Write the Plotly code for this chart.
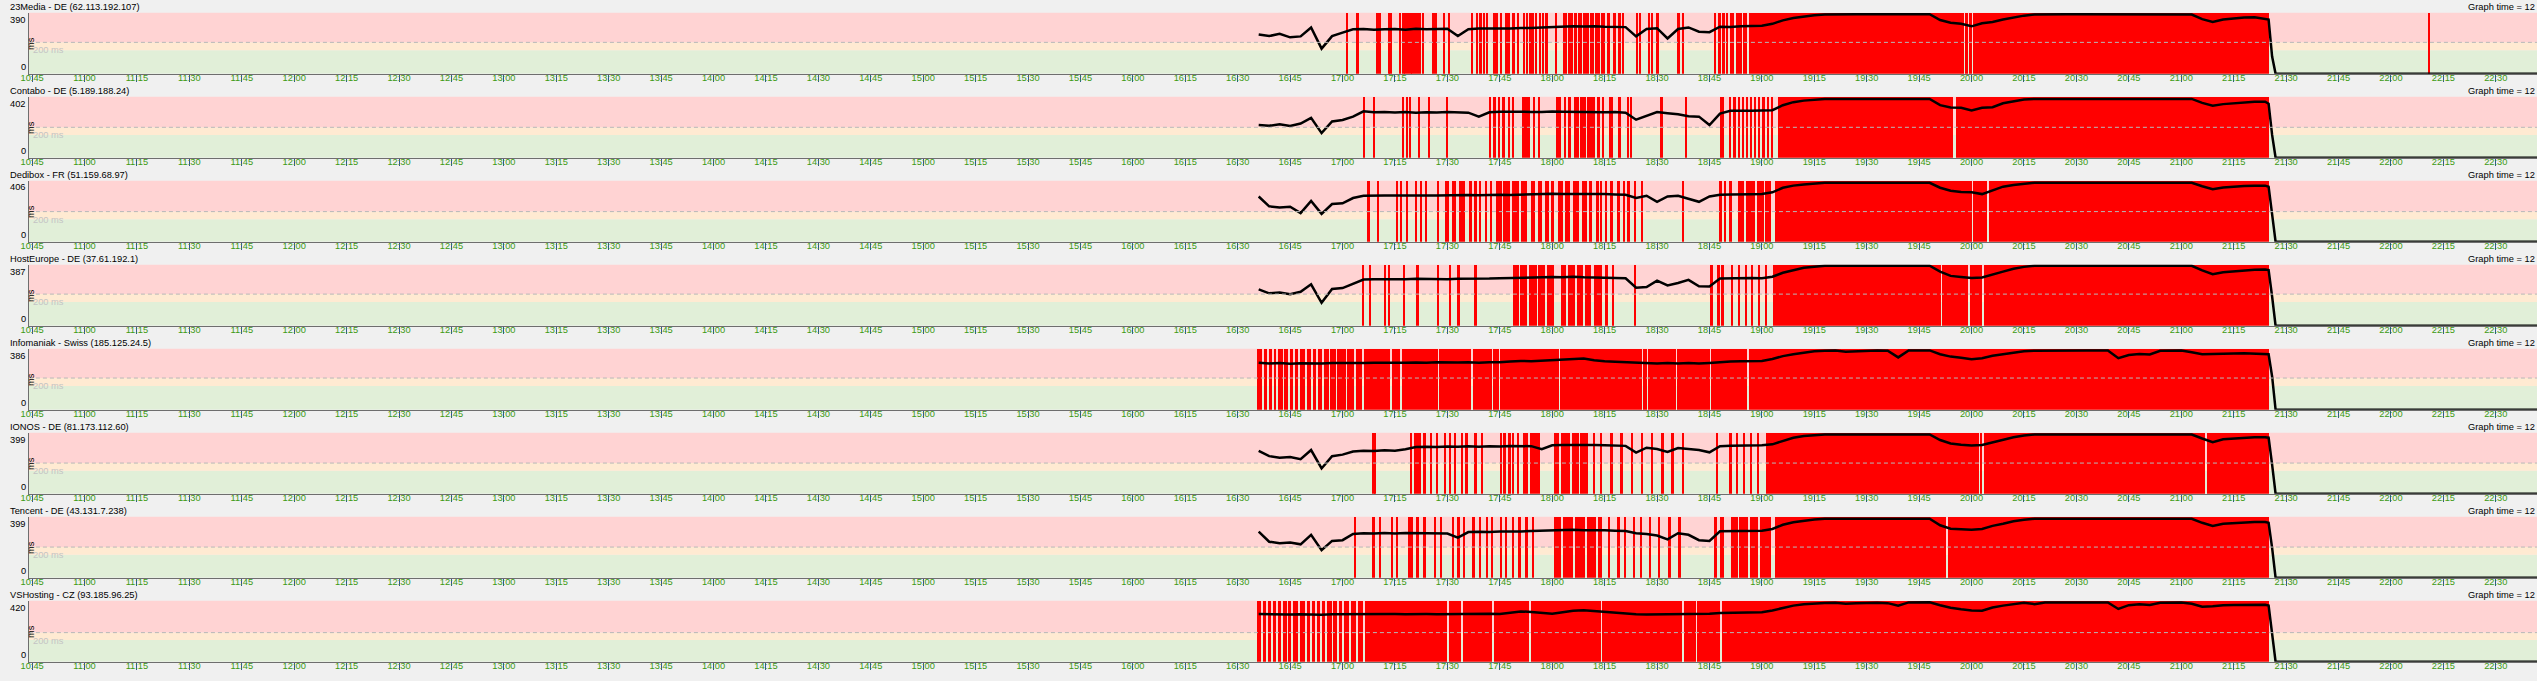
import pandas as pd
import plotly.graph_objects as go

DAY = "2024-01-01 "

# Ping monitor: one row per target server
servers = ["23Media - DE (62.113.192.107)", "Contabo - DE (5.189.188.24)",
           "Dedibox - FR (51.159.68.97)", "HostEurope - DE (37.61.192.1)",
           "Infomaniak - Swiss (185.125.24.5)", "IONOS - DE (81.173.112.60)",
           "Tencent - DE (43.131.7.238)", "VSHosting - CZ (93.185.96.25)"]
max_ms = [390, 402, 406, 387, 386, 399, 399, 420]
warn_ms = 150
alarm_ms = 200
graph_hours = 12

# latency samples every 3 minutes, 16:36 .. 21:24
lat_times = pd.date_range(DAY + "16:36", DAY + "21:24", freq="3min")
tail_times = ["21:25", "21:26", "21:27", "22:42"]

lat_23media = [250, 240, 255, 232, 238, 295, 160, 240, 262, 283,
               285, 280, 283, 285, 281, 286, 283, 285, 287, 240,
               284, 288, 287, 290, 289, 292, 291, 295, 298, 300,
               302, 301, 303, 300, 298, 297, 238, 285, 290, 225,
               285, 295, 268, 265, 300, 298, 302, 305, 306, 318,
               340, 355, 365, 372, 377, 379, 379, 379, 379, 379,
               379, 379, 379, 379, 379, 342, 325, 318, 302, 322,
               330, 345, 360, 370, 377, 379, 379, 379, 379, 379,
               379, 379, 379, 379, 379, 379, 379, 379, 379, 377,
               348, 330, 345, 352, 358, 360, 352]
tail_23media = [345, 110, 0, 0]

lat_contabo = [215, 210, 220, 208, 225, 262, 162, 238, 248, 270,
               305, 298, 300, 297, 300, 296, 299, 297, 300, 298,
               296, 270, 298, 302, 300, 303, 301, 300, 304, 302,
               300, 303, 301, 298, 300, 296, 250, 275, 300, 292,
               285, 272, 270, 215, 290, 308, 306, 308, 310, 312,
               345, 365, 375, 382, 386, 386, 386, 386, 386, 386,
               386, 386, 386, 386, 386, 345, 330, 328, 310, 328,
               332, 358, 370, 382, 386, 386, 386, 386, 386, 386,
               386, 386, 386, 386, 386, 386, 386, 386, 386, 386,
               360, 342, 352, 358, 365, 368, 368]
tail_contabo = [355, 150, 0, 0]

lat_dedibox = [300, 235, 228, 232, 190, 270, 185, 250, 255, 290,
               305, 308, 306, 307, 305, 308, 306, 307, 309, 307,
               310, 308, 311, 312, 310, 313, 315, 316, 318, 316,
               317, 318, 315, 316, 314, 312, 290, 305, 265, 300,
               305, 285, 265, 300, 312, 314, 313, 315, 316, 328,
               358, 372, 380, 387, 391, 391, 391, 391, 391, 391,
               391, 391, 391, 391, 391, 358, 338, 330, 328, 316,
               340, 365, 376, 385, 391, 391, 391, 391, 391, 391,
               391, 391, 391, 391, 391, 391, 391, 391, 391, 391,
               368, 348, 360, 366, 370, 372, 372]
tail_dedibox = [365, 180, 0, 0]

lat_hosteurope = [230, 205, 210, 200, 215, 262, 145, 232, 238, 265,
                  292, 294, 293, 296, 294, 297, 295, 296, 294, 297,
                  296, 299, 298, 300, 302, 301, 304, 306, 308, 307,
                  309, 306, 305, 303, 304, 300, 240, 245, 285, 255,
                  270, 290, 250, 248, 298, 300, 299, 301, 300, 310,
                  335, 352, 366, 373, 379, 379, 379, 379, 379, 379,
                  379, 379, 379, 379, 379, 342, 315, 308, 302, 305,
                  325, 342, 360, 372, 379, 379, 379, 379, 379, 379,
                  379, 379, 379, 379, 379, 379, 379, 379, 379, 379,
                  350, 326, 338, 344, 350, 354, 356]
tail_hosteurope = [352, 185, 0, 0]

lat_infomaniak = [296, 292, 294, 290, 293, 292, 291, 295, 294, 296,
                  295, 297, 296, 298, 297, 298, 296, 299, 297, 298,
                  299, 297, 300, 299, 304, 308, 306, 309, 312, 315,
                  318, 323, 312, 305, 303, 300, 298, 293, 291, 295,
                  292, 294, 291, 295, 300, 304, 305, 306, 308, 320,
                  338, 350, 360, 368, 372, 374, 365, 368, 374, 374,
                  372, 330, 374, 374, 374, 350, 335, 328, 318, 325,
                  340, 350, 360, 368, 372, 373, 373, 373, 373, 373,
                  373, 373, 325, 345, 352, 348, 372, 374, 374, 363,
                  350, 352, 355, 355, 356, 355, 355]
tail_infomaniak = [350, 210, 0, 0]

lat_ionos = [280, 245, 235, 240, 225, 285, 165, 245, 255, 275,
             280, 278, 283, 281, 290, 305, 307, 305, 308, 306,
             309, 307, 310, 308, 311, 309, 310, 290, 316, 318,
             319, 317, 318, 316, 315, 312, 268, 300, 292, 272,
             298, 290, 285, 270, 310, 313, 314, 315, 316, 322,
             345, 365, 376, 382, 386, 386, 386, 386, 386, 386,
             386, 386, 386, 386, 386, 350, 328, 320, 315, 318,
             335, 350, 368, 380, 386, 386, 386, 386, 386, 386,
             386, 386, 386, 386, 386, 386, 386, 386, 386, 386,
             360, 336, 355, 360, 365, 368, 368]
tail_ionos = [365, 190, 0, 0]

lat_tencent = [300, 235, 225, 230, 218, 280, 180, 240, 245, 285,
               290, 288, 292, 289, 291, 290, 293, 291, 288, 262,
               298, 300, 298, 301, 300, 302, 304, 306, 310, 311,
               312, 310, 311, 309, 307, 304, 290, 285, 275, 250,
               290, 280, 245, 240, 303, 305, 304, 306, 307, 318,
               345, 362, 372, 380, 384, 384, 384, 384, 384, 384,
               384, 384, 384, 384, 384, 342, 320, 316, 312, 318,
               338, 352, 368, 378, 384, 384, 384, 384, 384, 384,
               384, 384, 384, 384, 384, 384, 384, 384, 384, 384,
               358, 338, 352, 356, 360, 363, 363]
tail_tencent = [358, 195, 0, 0]

lat_vshosting = [328, 326, 325, 324, 326, 323, 322, 325, 326, 324,
                 327, 326, 328, 327, 326, 328, 327, 326, 327, 329,
                 328, 327, 330, 328, 336, 345, 342, 338, 330, 340,
                 350, 353, 348, 338, 336, 332, 326, 324, 325, 322,
                 324, 326, 325, 330, 335, 337, 338, 339, 340, 352,
                 370, 385, 395, 400, 403, 404, 398, 402, 404, 405,
                 402, 385, 407, 408, 408, 388, 370, 360, 352, 350,
                 372, 385, 395, 405, 395, 406, 406, 407, 407, 407,
                 407, 407, 362, 388, 395, 390, 405, 407, 406, 398,
                 378, 380, 388, 390, 392, 391, 391]
tail_vshosting = [385, 208, 0, 0]

# packet loss: single lost probes as a time, runs of losses as (start, end)
loss_23media = [
    "17:01:18", ("17:04:06", "17:04:30"), "17:10:00", "17:10:36", "17:13:24", "17:13:48",
    "17:16:30", "17:17:30", "17:18:06", "17:18:54", "17:19:36", "17:20:06", "17:20:48",
    "17:21:30", "17:22:12", "17:23:00", ("17:25:30", "17:27:00"), "17:29:06", "17:30:36",
    "17:37:00", "17:38:36", "17:39:30", "17:40:30", "17:41:24", "17:43:18", "17:44:06",
    "17:45:18", ("17:46:30", "17:48:00"), "17:49:00", "17:50:18", "17:51:54", "17:52:48",
    "17:53:48", "17:54:36", "17:55:30", "17:56:36", "17:57:24", "17:58:24", "18:01:12",
    ("18:03:06", "18:04:12"), ("18:04:36", "18:05:48"), ("18:06:06", "18:07:00"),
    ("18:07:24", "18:08:30"), ("18:08:54", "18:10:30"), ("18:10:54", "18:11:48"),
    ("18:12:12", "18:13:36"), ("18:14:00", "18:15:12"), ("18:15:36", "18:16:24"),
    "18:17:54", "18:19:18", "18:20:24", "18:24:18", "18:25:12", "18:27:48", "18:28:36",
    "18:30:12", "18:36:12", "18:37:30",
    ("18:46:24", "18:46:54"), ("18:47:18", "18:48:12"), ("18:48:36", "18:49:30"),
    ("18:49:54", "18:50:18"), ("18:50:48", "18:52:06"), ("18:52:30", "18:54:18"),
    ("18:54:42", "18:55:48"), ("18:56:12", "19:57:48"), ("19:58:12", "19:59:00"),
    ("19:59:18", "20:00:00"), ("20:00:18", "21:25:12"), "22:11:00",
]

loss_contabo = [
    "17:06:12", "17:09:06", "17:17:24", "17:18:36", "17:19:18", "17:22:00", "17:24:42",
    "17:30:00", "17:42:18", "17:43:30", "17:44:54", "17:46:06", "17:47:42", "17:48:54",
    ("17:51:12", "17:53:36"), "17:54:48", ("17:56:00", "17:56:36"), ("18:01:12", "18:02:36"),
    "18:03:48", "18:05:00", ("18:06:12", "18:07:36"), ("18:08:00", "18:09:36"),
    ("18:10:00", "18:12:12"), "18:13:18", "18:14:30", ("18:16:18", "18:17:30"),
    "18:19:18", "18:21:42", "18:22:42", "18:31:18", "18:38:24", ("18:48:00", "18:49:12"),
    "18:51:00", "18:52:12", "18:53:24", "18:54:36", "18:55:48", "18:57:00", "18:58:06",
    "18:59:18", "19:00:30", "19:01:42", "19:02:54", ("19:04:42", "19:54:48"),
    ("19:55:24", "21:25:12"),
]

loss_dedibox = [
    "17:07:30", "17:10:12", "17:15:42", "17:16:42", "17:18:36", "17:21:06", "17:22:30",
    "17:23:54", "17:27:24", ("17:29:18", "17:30:30"), ("17:31:12", "17:32:24"),
    ("17:33:12", "17:35:06"), "17:36:42", "17:38:06", "17:39:24", "17:41:00", "17:42:30",
    ("17:43:54", "17:45:30"), ("17:46:00", "17:48:00"), ("17:48:30", "17:50:30"),
    ("17:51:00", "17:52:42"), ("17:54:00", "17:55:00"), ("17:56:00", "17:57:00"),
    ("17:58:00", "17:59:00"), ("17:59:30", "18:00:30"), ("18:01:30", "18:03:00"),
    ("18:03:30", "18:05:00"), ("18:06:00", "18:07:30"), ("18:08:30", "18:10:00"),
    ("18:10:30", "18:11:30"), "18:13:00", "18:14:06", "18:15:30", "18:17:00", "18:19:00",
    "18:20:30", "18:21:54", "18:23:48", "18:25:48", "18:37:24", "18:48:12", "18:49:30",
    "18:51:06", ("18:53:00", "18:55:00"), ("18:55:30", "18:58:00"), ("18:58:30", "19:00:30"),
    ("19:01:00", "19:02:30"), ("19:03:42", "20:00:00"), ("20:00:24", "20:04:30"),
    ("20:04:54", "21:25:12"),
]

loss_hosteurope = [
    "17:06:00", "17:07:54", "17:12:12", "17:13:18", "17:17:36", "17:21:30", "17:27:24",
    "17:30:54", "17:33:12", "17:38:06", ("17:48:48", "17:50:24"), ("17:50:54", "17:52:48"),
    ("17:53:18", "17:55:30"), ("17:56:00", "17:58:00"), ("17:58:30", "18:00:30"),
    ("18:02:24", "18:04:00"), ("18:04:36", "18:06:30"), ("18:07:00", "18:08:48"),
    ("18:09:30", "18:11:12"), ("18:11:48", "18:14:06"), "18:15:36", "18:17:24", "18:23:48",
    "18:45:36", "18:47:36", "18:48:48", "18:51:30", "18:53:24", "18:55:24", "18:57:18",
    "18:59:18", "19:01:12", ("19:03:12", "19:51:12"), ("19:51:36", "19:59:00"),
    ("19:59:24", "20:03:00"), ("20:03:24", "21:25:12"),
]

loss_infomaniak = [
    ("16:35:30", "16:36:50"), ("16:37:30", "16:38:30"), ("16:39:00", "16:39:50"),
    ("16:40:20", "16:41:00"), ("16:41:30", "16:42:50"), ("16:43:20", "16:44:20"),
    ("16:44:50", "16:45:50"), ("16:46:30", "16:47:10"), ("16:47:40", "16:49:10"),
    ("16:49:40", "16:51:00"), ("16:51:40", "16:52:30"), ("16:53:00", "16:54:00"),
    ("16:54:40", "16:56:00"), ("16:56:30", "16:58:00"), ("16:58:30", "17:00:50"),
    ("17:01:20", "17:03:20"), ("17:03:50", "17:05:40"), ("17:06:10", "17:13:30"),
    ("17:14:00", "17:16:30"), ("17:17:00", "17:27:10"), ("17:27:40", "17:36:50"),
    ("17:37:20", "17:42:40"), ("17:43:10", "17:44:40"), ("17:45:10", "18:01:50"),
    ("18:02:10", "18:25:40"), ("18:26:00", "18:27:10"), ("18:27:30", "18:35:20"),
    ("18:35:40", "18:44:10"), ("18:44:30", "18:45:00"), ("18:45:20", "18:55:50"),
    ("18:56:10", "21:25:12"),
]

loss_ionos = [
    "17:08:54", "17:09:24", "17:19:36", ("17:20:30", "17:22:30"), "17:23:30", "17:25:24",
    "17:27:00", "17:29:18", "17:30:54", "17:32:12", "17:34:12", "17:35:30", "17:38:06",
    "17:40:00", "17:45:18", "17:46:24", "17:47:48", "17:48:48", "17:50:18",
    ("17:51:42", "17:53:00"), ("17:53:30", "17:56:30"), ("18:00:30", "18:02:00"),
    ("18:02:30", "18:05:00"), ("18:05:30", "18:07:30"), ("18:08:00", "18:10:12"),
    "18:12:06", "18:14:06", "18:17:00", "18:19:54", "18:22:48", "18:25:48", "18:28:42",
    "18:31:36", "18:34:30", "18:37:24", "18:47:12", "18:51:06", "18:53:00", "18:55:00",
    "18:56:54", "18:58:54", ("19:01:12", "20:02:00"), ("20:02:24", "20:03:00"),
    ("20:03:24", "21:06:54"), ("21:07:18", "21:25:12"),
]

loss_tencent = [
    "17:03:36", "17:08:54", "17:10:48", "17:14:06", "17:15:42", "17:19:12", "17:20:00",
    "17:21:30", "17:23:30", "17:26:24", "17:28:18", "17:31:36", "17:33:12", "17:34:48",
    "17:37:30", "17:39:24", "17:41:24", "17:42:54", "17:45:18", "17:46:48", "17:48:48",
    "17:50:42", "17:52:42", "17:54:36", ("18:00:30", "18:02:30"), ("18:03:00", "18:06:00"),
    ("18:06:30", "18:09:30"), ("18:10:00", "18:12:30"), ("18:13:00", "18:14:12"),
    "18:16:24", "18:19:00", "18:20:54", "18:23:24", "18:25:24", "18:28:06", "18:30:36",
    "18:33:36", "18:36:30", ("18:46:12", "18:47:00"), ("18:48:00", "18:49:06"),
    ("18:51:00", "18:53:00"), ("18:53:30", "18:56:00"), ("18:56:30", "18:59:00"),
    ("18:59:30", "19:02:30"), ("19:03:42", "19:52:48"), ("19:53:18", "21:25:12"),
]

loss_vshosting = [
    ("16:35:30", "16:36:40"), ("16:37:10", "16:38:10"), ("16:38:40", "16:39:30"),
    ("16:40:00", "16:41:00"), ("16:41:30", "16:42:30"), ("16:43:00", "16:44:00"),
    ("16:44:30", "16:45:20"), ("16:45:50", "16:47:20"), ("16:47:50", "16:49:10"),
    ("16:49:40", "16:50:40"), ("16:51:10", "16:52:10"), ("16:52:40", "16:53:40"),
    ("16:54:10", "16:55:00"), ("16:55:30", "16:56:50"), ("16:57:20", "16:58:20"),
    ("16:58:50", "16:59:50"), ("17:00:20", "17:01:50"), ("17:02:20", "17:03:50"),
    ("17:04:20", "17:05:50"), ("17:06:20", "17:30:00"), ("17:30:30", "17:34:00"),
    ("17:34:30", "17:42:50"), ("17:43:20", "17:53:20"), ("17:53:50", "18:13:50"),
    ("18:14:20", "18:37:10"), ("18:37:40", "18:41:00"), ("18:41:30", "18:48:00"),
    ("18:48:30", "21:25:12"),
]

latencies = [lat_23media, lat_contabo, lat_dedibox, lat_hosteurope,
             lat_infomaniak, lat_ionos, lat_tencent, lat_vshosting]
tails = [tail_23media, tail_contabo, tail_dedibox, tail_hosteurope,
         tail_infomaniak, tail_ionos, tail_tencent, tail_vshosting]
losses = [loss_23media, loss_contabo, loss_dedibox, loss_hosteurope,
          loss_infomaniak, loss_ionos, loss_tencent, loss_vshosting]

W, H = 2537, 681
PITCH = 84
FONT = "Liberation Sans, Arial, sans-serif"
FS = 9.3


def loss_bars(items):
    # turn loss times / runs into bar centres and widths (ms)
    xs, ws = [], []
    for it in items:
        if isinstance(it, tuple):
            a, b = pd.Timestamp(DAY + it[0]), pd.Timestamp(DAY + it[1])
        else:
            a = b = pd.Timestamp(DAY + it)
        span = max((b - a).total_seconds(), 30)
        xs.append(a + (b - a) / 2)
        ws.append(span * 1000)
    return xs, ws


fig = go.Figure()
shapes = []
annotations = []

for k in range(len(servers)):
    sfx = "" if k == 0 else str(k + 1)
    top_px = 12.5 + PITCH * k
    bot_px = 73.8 + PITCH * k
    ymax = max_ms[k]

    fig.update_layout({
        "xaxis" + sfx: dict(
            domain=[21 / W, 1], anchor="y" + sfx, type="date",
            range=[DAY + "10:44:06", DAY + "22:41:48"],
            tick0=DAY + "10:45", dtick=900000, tickformat="%H:%M",
            ticks="outside", ticklen=7, tickwidth=1, tickcolor="#34558f",
            ticklabelstandoff=-12,
            tickfont=dict(family=FONT, size=FS, color="#3c9a12"),
            showline=True, linecolor="#6e6e6e", linewidth=1,
            showgrid=False, zeroline=False, fixedrange=True),
        "yaxis" + sfx: dict(
            domain=[1 - bot_px / H, 1 - top_px / H], anchor="x" + sfx,
            range=[0, ymax], showticklabels=False, ticks="",
            showline=True, linecolor="#6e6e6e", linewidth=1,
            showgrid=False, zeroline=False, fixedrange=True),
    })

    xd = "x" + sfx + " domain"
    yd = "y" + sfx
    # threshold bands
    for y0, y1, col in [(0, warn_ms, "#e1efd8"), (warn_ms, alarm_ms, "#ffead2"),
                        (alarm_ms, ymax, "#ffd3d3")]:
        shapes.append(dict(type="rect", xref=xd, yref=yd, x0=0, x1=1, y0=y0, y1=y1,
                           fillcolor=col, line_width=0, layer="below"))
    shapes.append(dict(type="line", xref=xd, yref=yd, x0=0, x1=1, y0=alarm_ms, y1=alarm_ms,
                       line=dict(color="#b8b8b8", width=1, dash="4px,3px"), layer="above"))

    xs, ws = loss_bars(losses[k])
    fig.add_trace(go.Bar(x=xs, y=[ymax] * len(xs), width=ws, base=0,
                         marker=dict(color="#ff0000", line=dict(width=0)),
                         xaxis="x" + sfx, yaxis="y" + sfx, hoverinfo="skip"))

    times = list(lat_times) + [pd.Timestamp(DAY + t) for t in tail_times]
    fig.add_trace(go.Scatter(x=times, y=latencies[k] + tails[k], mode="lines",
                             line=dict(color="#000000", width=2.5),
                             cliponaxis=False, xaxis="x" + sfx, yaxis="y" + sfx))

    base_font = dict(family=FONT, size=FS, color="#000000")
    annotations += [
        dict(text=servers[k], xref="paper", yref="paper", x=0, y=1 - (PITCH * k) / H,
             xanchor="left", yanchor="top", showarrow=False, font=base_font),
        dict(text="Graph time = %d" % graph_hours, xref="paper", yref="paper", x=1,
             y=1 - (PITCH * k) / H, xanchor="right", yanchor="top", showarrow=False,
             font=base_font),
        dict(text=str(ymax), xref="paper", yref=yd + " domain", x=20 / W, y=1,
             xanchor="right", yanchor="top", showarrow=False, font=base_font),
        dict(text="0", xref="paper", yref=yd + " domain", x=20 / W, y=0,
             xanchor="right", yanchor="bottom", showarrow=False, font=base_font),
        dict(text="ms", xref="paper", yref=yd + " domain", x=16 / W, y=0.5,
             textangle=-90, showarrow=False, font=base_font),
        dict(text="%d ms" % alarm_ms, xref=xd, yref=yd, x=0, y=alarm_ms, xshift=2,
             yshift=-1, xanchor="left", yanchor="top", showarrow=False,
             font=dict(family=FONT, size=FS, color="#c4c4c4")),
    ]

fig.update_layout(width=W, height=H, margin=dict(l=0, r=0, t=0, b=0),
                  paper_bgcolor="#f0f0f0", plot_bgcolor="rgba(0,0,0,0)",
                  showlegend=False, bargap=0, shapes=shapes, annotations=annotations)

# no page margin so the figure sits exactly in the window; no modebar
fig.write_html("out.html", config={"displayModeBar": False},
               post_script="document.body.style.margin='0';")
